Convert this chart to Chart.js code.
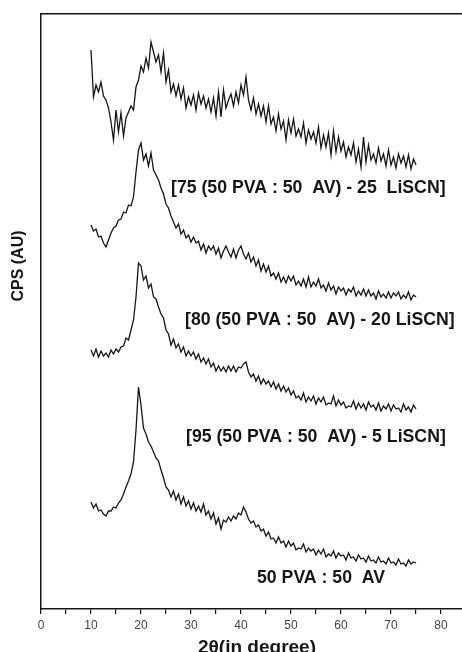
<!DOCTYPE html>
<html>
<head>
<meta charset="utf-8">
<script src="https://cdn.jsdelivr.net/npm/chart.js@4.4.0/dist/chart.umd.min.js"></script>
<style>
html,body{margin:0;padding:0;background:#fff;overflow:hidden}
#wrap{width:462px;height:652px}
</style>
</head>
<body>
<div id="wrap"><canvas id="c" width="462" height="652"></canvas></div>
<script>
// 2-theta angles (degrees)
const theta = [10,10.5,11,11.5,12,12.5,13,13.5,14,14.5,15,15.5,16,16.5,17,17.5,18,18.5,19,19.5,
20,20.5,21,21.5,22,22.5,23,23.5,24,24.5,25,25.5,26,26.5,27,27.5,28,28.5,29,29.5,
30,30.5,31,31.5,32,32.5,33,33.5,34,34.5,35,35.5,36,36.5,37,37.5,38,38.5,39,39.5,
40,40.5,41,41.5,42,42.5,43,43.5,44,44.5,45,45.5,46,46.5,47,47.5,48,48.5,49,49.5,
50,50.5,51,51.5,52,52.5,53,53.5,54,54.5,55,55.5,56,56.5,57,57.5,58,58.5,59,59.5,
60,60.5,61,61.5,62,62.5,63,63.5,64,64.5,65,65.5,66,66.5,67,67.5,68,68.5,69,69.5,
70,70.5,71,71.5,72,72.5,73,73.5,74,74.5,75];

// [75 (50 PVA : 50 AV) - 25 LiSCN]  (stacked, arbitrary units)
const liscn25 = [
559,512,524,517,527,513,509,501,487,469,
499,477,496,473,491,497,503,499,522,529,
543,537,551,541,567,557,547,554,537,556,
527,539,517,525,513,524,510,521,501,512,
504,514,499,516,505,513,501,510,497,511,
493,517,492,519,501,509,515,503,517,506,
524,514,532,509,499,511,495,505,493,503,
487,503,485,492,478,495,480,488,469,489,
476,490,473,480,472,486,466,479,470,477,
466,482,461,474,462,476,454,478,457,472,
458,467,452,462,454,466,447,460,442,472,
447,464,449,455,446,461,448,455,443,459,
444,452,441,455,446,453,442,454,440,450,
444];

// [80 (50 PVA : 50 AV) - 20 LiSCN]
const liscn20 = [
384,378,380,372,373,366,362,369,376,381,
383,389,390,397,396,404,403,412,437,459,
466,449,455,443,456,439,434,429,421,415,
405,401,393,387,381,385,375,379,371,374,
367,372,366,368,359,365,356,363,359,363,
355,361,351,358,363,357,352,360,351,359,
363,355,350,356,347,352,343,349,338,345,
337,343,333,336,330,336,327,332,326,333,
328,333,324,328,323,330,322,332,322,327,
323,330,321,324,318,326,319,323,315,322,
318,321,314,320,317,322,313,318,314,320,
313,319,313,316,310,318,312,315,311,317,
311,316,313,317,310,314,311,317,309,314,
312];

// [95 (50 PVA : 50 AV) - 5 LiSCN]
const liscn5 = [
259,253,260,252,258,253,256,252,259,255,
260,257,262,263,271,269,279,289,312,346,
343,329,333,321,325,312,310,302,295,291,
279,275,264,270,261,265,257,262,253,258,
253,257,250,255,247,251,245,250,242,246,
238,243,238,242,237,243,238,243,237,242,
241,245,247,237,232,235,228,233,225,230,
225,228,222,227,220,225,218,223,217,221,
214,218,211,213,209,216,207,212,208,213,
205,211,207,212,204,206,205,213,203,209,
204,207,201,203,202,208,200,206,201,205,
199,207,202,204,199,206,198,203,200,205,
198,204,200,201,197,205,199,202,197,204,
200];

// 50 PVA : 50 AV
const pvaAv = [
107,101,105,98,99,95,93,98,98,102,
101,106,109,115,122,128,135,147,179,222,
204,181,175,167,163,157,151,148,139,131,
122,119,112,118,109,115,105,112,103,108,
100,106,98,103,97,105,94,98,90,96,
85,91,80,89,87,92,88,93,90,96,
94,102,97,90,86,88,82,84,78,80,
73,77,70,71,66,72,66,68,62,68,
63,66,59,61,60,65,57,61,58,60,
54,59,55,60,52,55,53,58,51,56,
53,54,49,56,51,52,48,54,50,51,
47,53,48,49,46,52,47,48,45,51,
46,47,44,50,45,46,43,49,45,47,
46];

const seriesNames = ['[75 (50 PVA : 50  AV) - 25  LiSCN]','[80 (50 PVA : 50  AV) - 20 LiSCN]','[95 (50 PVA : 50  AV) - 5 LiSCN]','50 PVA : 50  AV'];
const xTickValues = [0,5,10,15,20,25,30,35,40,45,50,55,60,65,70,75,80];
const xTickLabels = ['0','','10','','20','','30','','40','','50','','60','','70','','80'];
const xTitle = '2\u03B8(in degree)';
const yTitle = 'CPS (AU)';

const FONT = '"Liberation Sans", Arial, Helvetica, sans-serif';
const INK = '#161616';

const allSeries = [liscn25, liscn20, liscn5, pvaAv];
const datasets = allSeries.map((vals, k) => ({
  label: seriesNames[k],
  data: theta.map((t, i) => ({x: t, y: vals[i]})),
  borderColor: INK,
  borderWidth: 1.3,
  pointRadius: 0,
  tension: 0,
  fill: false
}));

// label anchor positions in data units (degrees, AU)
const labelAnchors = [[26, 421], [28.8, 289], [29, 172], [43.2, 31]];

const annotate = {
  id: 'annotate',
  afterDraw(chart) {
    const {ctx, scales} = chart;
    const xs = scales.x, ys = scales.y;
    ctx.save();
    ctx.fillStyle = INK;
    ctx.font = 'bold 17.7px ' + FONT;
    ctx.textAlign = 'left';
    ctx.textBaseline = 'middle';
    seriesNames.forEach((t, i) => {
      ctx.fillText(t, xs.getPixelForValue(labelAnchors[i][0]), ys.getPixelForValue(labelAnchors[i][1]));
    });
    // x title
    ctx.font = 'bold 19px ' + FONT;
    ctx.textAlign = 'center';
    ctx.textBaseline = 'alphabetic';
    ctx.fillText(xTitle, 257, 653);
    // y title
    ctx.translate(19, 266);
    ctx.rotate(-Math.PI / 2);
    ctx.font = 'bold 16px ' + FONT;
    ctx.textBaseline = 'middle';
    ctx.fillText(yTitle, 0, 0);
    ctx.restore();
  }
};

new Chart(document.getElementById('c'), {
  type: 'line',
  data: {datasets},
  plugins: [annotate],
  options: {
    responsive: false,
    animation: false,
    devicePixelRatio: 1,
    layout: {padding: {left: 41, top: 14, right: 0, bottom: 15.6}},
    plugins: {legend: {display: false}, tooltip: {enabled: false}},
    scales: {
      x: {
        type: 'linear', position: 'bottom', min: 0, max: 84.2,
        afterBuildTicks: s => { s.ticks = xTickValues.map(v => ({value: v})); },
        ticks: {
          autoSkip: false, maxRotation: 0, padding: 4,
          color: '#444', font: {family: FONT, size: 12},
          callback: (v, i) => xTickLabels[i]
        },
        grid: {display: true, drawOnChartArea: false, drawTicks: true, tickLength: 5, color: INK, lineWidth: 1.2},
        border: {display: true, color: INK, width: 1.5}
      },
      x2: {
        type: 'linear', position: 'top', min: 0, max: 84.2,
        ticks: {display: false},
        grid: {display: false, drawTicks: false},
        border: {display: true, color: INK, width: 1.5}
      },
      y: {
        type: 'linear', min: 0, max: 595,
        ticks: {display: false},
        grid: {display: false, drawTicks: false},
        border: {display: true, color: INK, width: 1.5}
      }
    }
  }
});
</script>
</body>
</html>
